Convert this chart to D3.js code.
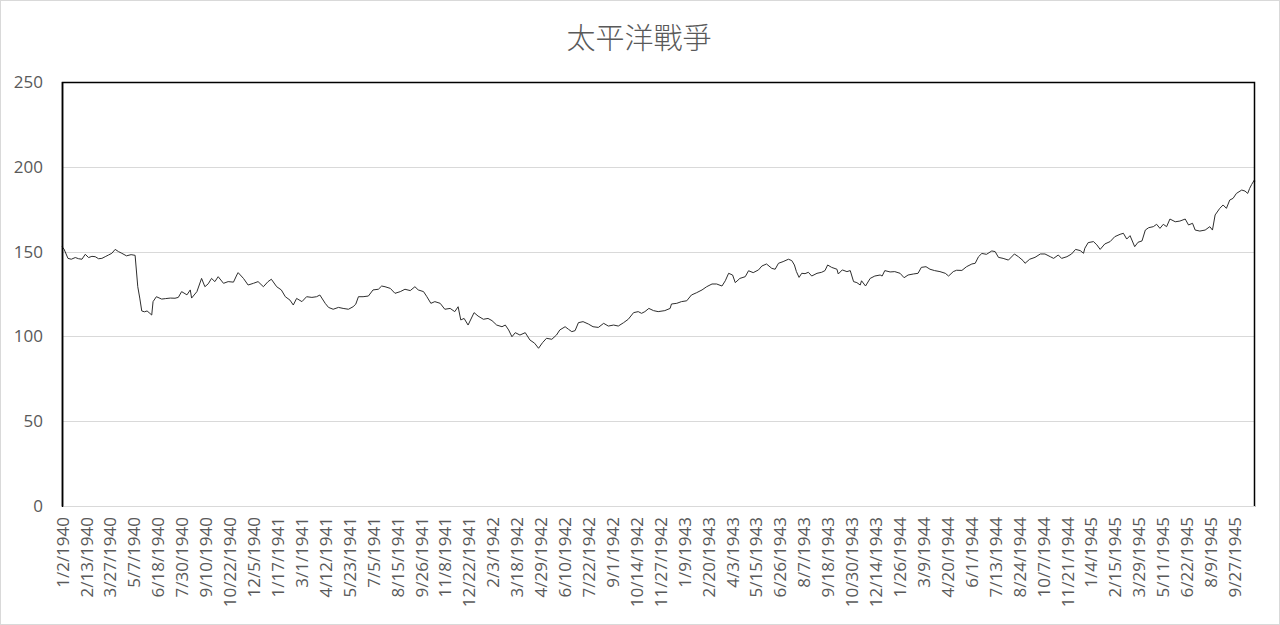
<!DOCTYPE html>
<html><head><meta charset="utf-8">
<script src="https://cdn.jsdelivr.net/npm/d3@7"></script>
<style>
html,body{margin:0;padding:0;background:#fff;}
svg{display:block;}
</style></head>
<body>
<svg id="chart" width="1280" height="625"></svg>
<script>
const chartTitle = "太平洋戰爭";
const tickLabels = ["1/2/1940","2/13/1940","3/27/1940","5/7/1940","6/18/1940","7/30/1940","9/10/1940","10/22/1940","12/5/1940","1/17/1941","3/1/1941","4/12/1941","5/23/1941","7/5/1941","8/15/1941","9/26/1941","11/8/1941","12/22/1941","2/3/1942","3/18/1942","4/29/1942","6/10/1942","7/22/1942","9/1/1942","10/14/1942","11/27/1942","1/9/1943","2/20/1943","4/3/1943","5/15/1943","6/26/1943","8/7/1943","9/18/1943","10/30/1943","12/14/1943","1/26/1944","3/9/1944","4/20/1944","6/1/1944","7/13/1944","8/24/1944","10/7/1944","11/21/1944","1/4/1945","2/15/1945","3/29/1945","5/11/1945","6/22/1945","8/9/1945","9/27/1945"];
const labelStep = 36;
const pointCount = 1796;
const yTicks = [0, 50, 100, 150, 200, 250];
// trading-day index of each read sample
const dayIndex = [0,3,9,14,20,25,30,35,40,45,50,55,60,65,70,75,80,85,90,97,104,110,114,117,120,124,128,131,135,137,142,150,156,163,170,175,180,188,193,195,203,210,215,220,225,230,235,243,250,258,263,265,273,280,288,295,303,310,315,323,330,336,343,348,353,361,368,376,383,388,396,401,408,416,423,431,438,442,446,453,461,468,476,481,486,494,501,509,516,524,531,536,544,549,555,561,569,576,584,591,596,600,605,611,620,626,634,641,647,654,662,667,672,677,682,689,697,704,711,717,723,729,737,744,749,757,762,767,772,777,784,792,799,807,815,822,830,837,845,852,860,867,872,877,883,890,897,907,915,917,925,932,940,947,955,963,970,978,985,993,998,1003,1009,1013,1020,1028,1033,1040,1048,1053,1060,1068,1073,1078,1085,1093,1098,1102,1105,1109,1113,1118,1123,1128,1136,1143,1148,1152,1158,1166,1168,1174,1181,1186,1191,1196,1201,1203,1209,1216,1223,1231,1234,1238,1246,1253,1261,1267,1273,1281,1288,1293,1300,1306,1313,1321,1329,1334,1341,1346,1354,1361,1369,1374,1379,1384,1391,1399,1404,1409,1416,1424,1433,1439,1446,1449,1456,1464,1472,1479,1487,1492,1499,1504,1512,1519,1525,1532,1537,1539,1544,1552,1557,1562,1569,1577,1584,1592,1597,1602,1607,1614,1619,1625,1630,1635,1642,1647,1652,1657,1662,1667,1675,1682,1690,1695,1701,1705,1712,1720,1727,1731,1735,1742,1747,1752,1757,1762,1767,1775,1780,1784,1787,1790,1794,1795];
// index level
const closeValue = [152.9,151.5,146,145.5,146.5,145.8,145.5,148.4,146.5,147.2,147,145.8,146,147,148,149,151.3,150,149,147.5,148.2,147.8,129.3,122.6,115,114.5,115,114,112.6,120.5,123.4,122,122.3,122.6,122.5,123,126.4,124.5,127.4,122.6,126.4,134.2,129.3,131,134.2,132.3,135.2,131.3,132.3,132,136.2,137.6,134.2,130.3,131.3,132.3,129.3,132.3,133.7,129.3,127.4,123.4,121.4,118.5,122.4,120.5,123.4,123,123.4,124.4,119.5,117.1,116,117.1,116.5,116,117.5,119,123.4,123.4,123.8,127.4,127.8,129.7,129.3,128.3,125.4,126.4,127.8,127,129.3,127.4,126.4,123.4,119.5,120.5,119.5,116,116.5,114.6,117.5,109.7,110.6,106.7,114,112,110.1,110.6,109.3,106.7,105.7,106.7,103.8,99.8,102.2,100.8,102.2,97.9,96,93,96.3,98.9,98.3,100.8,103.8,105.7,104.2,102.8,103.4,108.1,108.7,107.3,105.7,105.3,107.7,106.1,106.7,106.1,108.1,110.1,114,114.6,113.6,114.6,116.5,115.2,114.6,115.2,116.5,119.1,119.5,120.5,121,124.4,125.8,127.4,129.3,130.9,130.9,129.7,132.8,137.2,136.2,131.7,134.2,135.2,138.7,137.6,139.2,141.5,142.7,140.1,139.6,143.1,144.1,145.5,144.7,142.1,138.2,134.8,137.2,137,137.8,135.6,137.2,137.8,138.8,142.1,140.7,139.6,136.8,139.2,138.2,138.8,132.3,131.7,130.3,132.8,129.7,134.2,135.6,136.2,135.6,138.8,138,138.2,137.2,134.6,136.2,136.8,137.2,140.7,141.1,139.6,138.8,138.2,137.2,135.6,138.2,139,138.9,141.1,142.7,143.1,147,148.9,148.4,150.4,150,146.6,146,145,148.6,147,144.7,143.1,145.5,146.6,148.6,148.6,147,146,148,146,147,148.6,151.3,150.6,149,152,155.3,155.9,154,151.3,154.5,155.9,158.8,160.2,160.8,157.4,159.4,152.9,155.5,156.3,162.7,164.1,164.7,166.1,163.7,166.1,164.7,169.2,167.6,168,169.2,165.7,166.7,162.7,162.1,162.7,164.7,162.7,171.6,175.5,177.5,175.5,180.4,181.4,184.3,186.3,185.7,184.3,187.3,189.6,192.2,191.5];

const W = 1280, H = 625;
const plot = {left: 62, right: 1255, top: 82, bottom: 506};
const svg = d3.select("#chart");
const textColor = "#595959";
const labelFont = "'Open Sans', 'Noto Sans', sans-serif";

svg.append("rect").attr("x",0.5).attr("y",0.5).attr("width",W-1).attr("height",H-1)
  .attr("fill","#fff").attr("stroke","#d9d9d9");

const x = d3.scaleLinear().domain([0, pointCount-1]).range([plot.left, plot.right]);
const y = d3.scaleLinear().domain([0, 250]).range([plot.bottom, plot.top]);

// gridlines
svg.append("g").selectAll("line").data(yTicks.filter(d=>d>0 && d<250)).join("line")
  .attr("x1",plot.left).attr("x2",plot.right)
  .attr("y1",d=>Math.round(y(d))+0.5).attr("y2",d=>Math.round(y(d))+0.5)
  .attr("stroke","#d9d9d9").attr("stroke-width",1);

// title
svg.append("text").attr("x",639).attr("y",49).attr("text-anchor","middle")
  .attr("font-family","'Noto Sans CJK TC','Noto Sans CJK SC',sans-serif")
  .attr("font-weight",300)
  .attr("font-size",29).attr("fill",textColor).text(chartTitle);

// y axis
const yAxis = svg.append("g").attr("transform",`translate(${plot.left},0)`)
  .call(d3.axisLeft(y).tickValues(yTicks).tickSize(0).tickPadding(19));
yAxis.select(".domain").remove();
yAxis.selectAll("text").attr("font-family",labelFont).attr("font-size",17).attr("fill",textColor);

// x axis
const xAxis = svg.append("g").attr("transform",`translate(0,${plot.bottom})`)
  .call(d3.axisBottom(x).tickValues(tickLabels.map((d,i)=>i*labelStep))
    .tickFormat((d,i)=>tickLabels[i]).tickSize(0));
xAxis.select(".domain").remove();
xAxis.selectAll("text")
  .attr("transform","rotate(-90)")
  .attr("x",-11).attr("y",0).attr("dy","0.36em")
  .style("text-anchor","end")
  .attr("font-family",labelFont).attr("font-size",17).attr("fill",textColor);

// line
const series = dayIndex.map((d,i)=>({i:d, v:closeValue[i]}));
svg.append("path").datum(series)
  .attr("fill","none").attr("stroke","#2e2e2e").attr("stroke-width",1)
  .attr("stroke-linejoin","round")
  .attr("d", d3.line().x(d=>x(d.i)).y(d=>y(d.v)));

// plot frame
svg.append("path")
  .attr("d",`M${plot.left+0.5},${plot.bottom}V${plot.top+0.5}H${plot.right-0.5}V${plot.bottom+1}`)
  .attr("fill","none").attr("stroke","#000").attr("stroke-width",1.5);
svg.append("line").attr("x1",plot.left).attr("x2",plot.right)
  .attr("y1",plot.bottom+0.5).attr("y2",plot.bottom+0.5)
  .attr("stroke","#d9d9d9").attr("stroke-width",1);
svg.append("line").attr("x1",plot.left+0.5).attr("x2",plot.left+0.5)
  .attr("y1",plot.top).attr("y2",plot.bottom+1)
  .attr("stroke","#000").attr("stroke-width",1.5);
</script>
</body></html>
